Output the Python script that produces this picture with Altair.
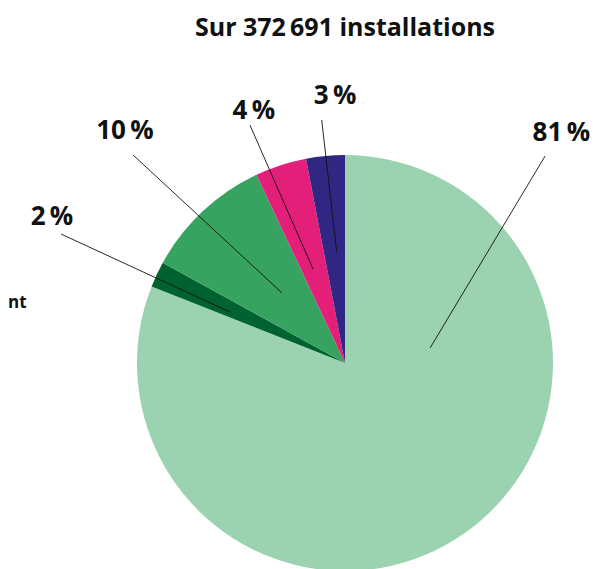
import altair as alt
import pandas as pd

# ---- data ----
categories = ["A", "B", "C", "D", "E"]
shares = [81, 2, 10, 4, 3]
order = [1, 2, 3, 4, 5]
colors = ["#9bd3b0", "#00622f", "#36a360", "#e31f7a", "#2f2781"]
labels = ["81\u2009%", "2\u2009%", "10\u2009%", "4\u2009%", "3\u2009%"]

# label and leader positions (in pie-radius units, relative to pie centre)
label_u = [1.040, -1.409, -1.058, -0.438, -0.048]
label_v = [1.108, 0.702, 1.115, 1.211, 1.282]
lead_u1 = [0.409, -0.553, -0.303, -0.154, -0.040]
lead_v1 = [0.072, 0.245, 0.337, 0.452, 0.535]
lead_u2 = [0.962, -1.365, -1.019, -0.457, -0.112]
lead_v2 = [0.995, 0.620, 1.000, 1.144, 1.168]

title_text = "Sur 372\u2009691 installations"
side_text = "nt"

W, H = 582, 561
CX, CY, R = 337, 355, 208

df = pd.DataFrame({"cat": categories, "share": shares, "order": order,
                   "label": labels, "lu": label_u, "lv": label_v,
                   "u1": lead_u1, "v1": lead_v1, "u2": lead_u2, "v2": lead_v2})

xs = alt.Scale(domain=[-CX / R, (W - CX) / R], nice=False, zero=False)
ys = alt.Scale(domain=[-(H - CY) / R, CY / R], nice=False, zero=False)

pie = alt.Chart(df).mark_arc(radius=R, stroke=None).encode(
    theta=alt.Theta("share:Q", stack=True),
    order=alt.Order("order:Q"),
    color=alt.Color("cat:N", scale=alt.Scale(domain=categories, range=colors), legend=None),
    x=alt.X(datum=0, type="quantitative", scale=xs, axis=None),
    y=alt.Y(datum=0, type="quantitative", scale=ys, axis=None),
)

leaders = alt.Chart(df).mark_rule(color="#111111", strokeWidth=0.9).encode(
    x=alt.X("u1:Q", scale=xs, axis=None),
    y=alt.Y("v1:Q", scale=ys, axis=None),
    x2="u2:Q",
    y2="v2:Q",
)

texts = alt.Chart(df).mark_text(font="Open Sans", fontWeight="bold", fontSize=26,
                                color="#111111", baseline="middle", align="center").encode(
    x=alt.X("lu:Q", scale=xs, axis=None),
    y=alt.Y("lv:Q", scale=ys, axis=None),
    text="label:N",
)

title = alt.Chart(pd.DataFrame({"t": [title_text], "u": [0.0], "v": [1.612]})).mark_text(
    font="Open Sans", fontWeight="bold", fontSize=25, color="#111111", baseline="middle", align="center"
).encode(
    x=alt.X("u:Q", scale=xs, axis=None),
    y=alt.Y("v:Q", scale=ys, axis=None),
    text="t:N",
)

side = alt.Chart(pd.DataFrame({"t": [side_text], "u": [-CX / R], "v": [0.29]})).mark_text(
    font="Open Sans", fontWeight="bold", fontSize=17, color="#111111", baseline="middle", align="left"
).encode(
    x=alt.X("u:Q", scale=xs, axis=None),
    y=alt.Y("v:Q", scale=ys, axis=None),
    text="t:N",
)

chart = alt.layer(pie, leaders, texts, title, side).properties(
    width=W, height=H, padding=0, autosize=alt.AutoSizeParams(type="none")
).configure_view(stroke=None)

chart.save("out.html", embed_options={"renderer": "svg", "actions": False})
